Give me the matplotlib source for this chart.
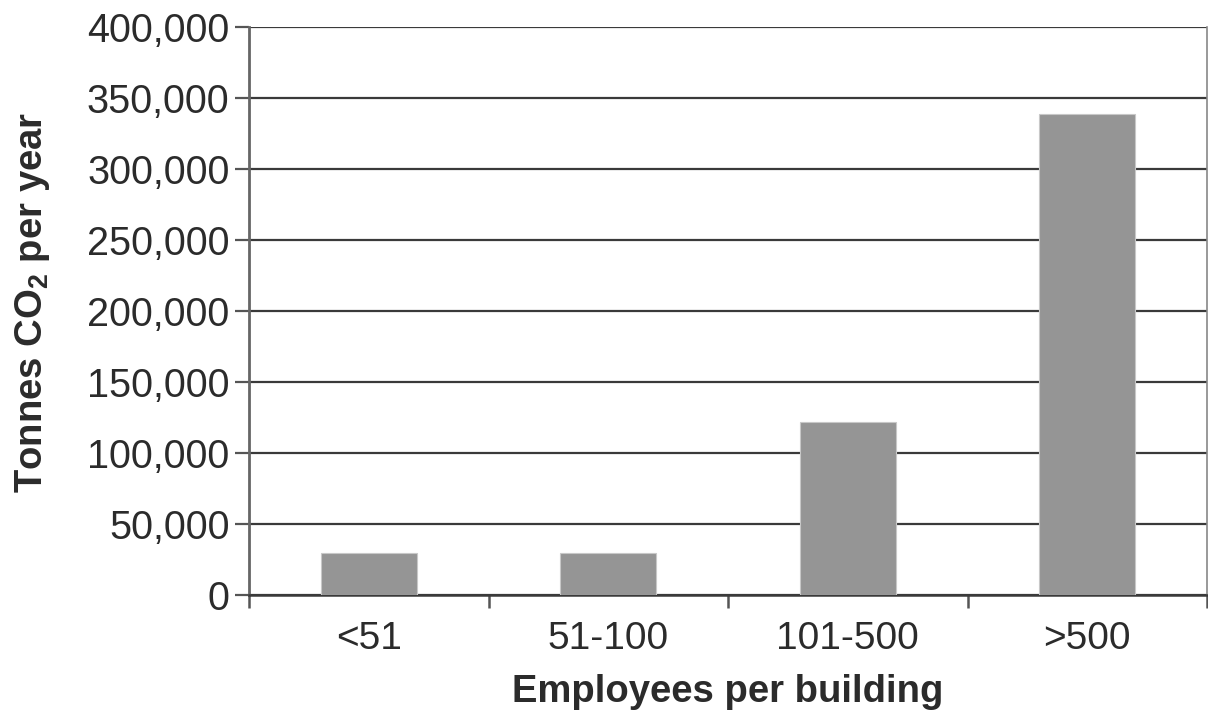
import matplotlib
matplotlib.use("Agg")
import matplotlib.pyplot as plt
from matplotlib.ticker import FuncFormatter, FixedLocator

categories = ["<51", "51-100", "101-500", ">500"]
values = [29500, 29500, 121500, 339000]
yticks = [0, 50000, 100000, 150000, 200000, 250000, 300000, 350000, 400000]

plt.rcParams['font.family'] = ['Liberation Sans', 'DejaVu Sans']
plt.rcParams['mathtext.fontset'] = 'custom'
plt.rcParams['mathtext.rm'] = 'Liberation Sans:bold'
plt.rcParams['mathtext.it'] = 'Liberation Sans:bold'
plt.rcParams['mathtext.bf'] = 'Liberation Sans:bold'

fig = plt.figure(figsize=(12.08, 7.19), dpi=100)
ax = fig.add_axes([249/1208, (719-594.5)/719, (1207-249)/1208, (594.5-27)/719])

x = list(range(len(categories)))
ax.bar(x, values, width=0.4, color="#959595", edgecolor="#c8c8c8", linewidth=0.8, zorder=3)

ax.set_xlim(-0.5, len(categories) - 0.5)
ax.set_ylim(0, 400000)
ax.set_yticks(yticks)
ax.yaxis.set_major_formatter(FuncFormatter(lambda v, p: f"{int(v):,}"))
ax.grid(axis="y", color="#3a3a3a", linewidth=1.6, zorder=1)
ax.set_axisbelow(True)

ax.set_xticks(x)
ax.set_xticklabels(categories)
ax.xaxis.set_minor_locator(FixedLocator([i - 0.5 for i in range(len(categories) + 1)]))
ax.tick_params(axis="x", which="major", length=0, pad=19, labelsize=28, labelcolor="#2b2b2b")
ax.tick_params(axis="x", which="minor", length=9, width=1.8, color="#555555", direction="out")
ax.tick_params(axis="y", which="major", length=10, width=1.6, color="#555555", pad=4,
               labelsize=28.5, labelcolor="#2b2b2b")

ax.spines["top"].set_visible(False)
ax.spines["left"].set_color("#666666")
ax.spines["left"].set_linewidth(2)
ax.spines["bottom"].set_color("#3a3a3a")
ax.spines["bottom"].set_linewidth(1.8)
ax.spines["right"].set_color("#888888")
ax.spines["right"].set_linewidth(1.2)

ax.set_xlabel("Employees per building", fontsize=27.5, fontweight="bold", color="#2b2b2b")
ax.set_ylabel(r"Tonnes CO$_2$ per year", fontsize=27.5, fontweight="bold", color="#2b2b2b")
ax.xaxis.set_label_coords(0.5, (594.5 - 674) / 567.5)
ax.yaxis.set_label_coords((52 - 249) / 958, 0.515)

fig.savefig("out.png", dpi=100)
